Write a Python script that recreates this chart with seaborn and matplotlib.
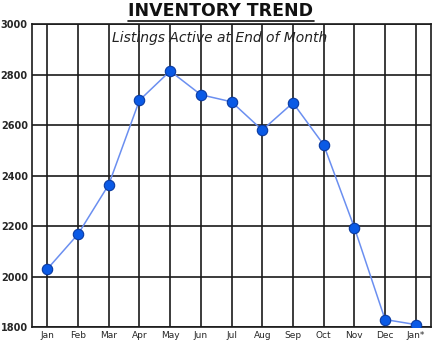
import matplotlib
matplotlib.use("Agg")
import matplotlib.pyplot as plt
import seaborn as sns
import pandas as pd

months = ["Jan", "Feb", "Mar", "Apr", "May", "Jun", "Jul", "Aug", "Sep", "Oct", "Nov", "Dec", "Jan*"]
listings = [2030, 2168, 2364, 2698, 2814, 2720, 2692, 2580, 2688, 2522, 2194, 1830, 1810]
yticks = [1800, 2000, 2200, 2400, 2600, 2800, 3000]

sns.set_theme(style="white")
plt.rcParams['font.family'] = ['DejaVu Sans']

df = pd.DataFrame({"month": months, "listings": listings, "pos": range(len(months))})

fig = plt.figure(figsize=(4.44, 3.48), dpi=100)
ax = fig.add_axes([0.072, 0.060, 0.899, 0.871])

sns.lineplot(data=df, x="pos", y="listings", ax=ax, color="#6b8ff0", linewidth=1.1,
             marker="o", markersize=7.5, markerfacecolor="#0a5ae6", markeredgecolor="#0a3aa0",
             markeredgewidth=0.8, zorder=3)

ax.set_xlim(-0.5, len(months) - 0.5)
ax.set_ylim(1800, 3000)
ax.set_xticks(range(len(months)))
ax.set_xticklabels(months, fontsize=6.5)
ax.set_yticks(yticks)
ax.set_yticklabels([str(t) for t in yticks], fontsize=7, fontweight="bold")
ax.grid(True, color="#1a1a1a", linewidth=1.2)
ax.set_axisbelow(True)
for s in ax.spines.values():
    s.set_color("#1a1a1a")
    s.set_linewidth(1.2)
ax.tick_params(axis="both", length=0, pad=3)
ax.set_xlabel("")
ax.set_ylabel("")

fig.text(0.497, 0.968, "INVENTORY TREND", ha="center", va="center", fontsize=12.5,
         fontweight="bold", color="#111111")
fig.add_artist(matplotlib.lines.Line2D([0.288, 0.708], [0.940, 0.940], color="#111111", linewidth=1.2))
fig.text(0.495, 0.890, "Listings Active at End of Month", ha="center",
         va="center", fontsize=10, style="italic", color="#222222")

fig.savefig("out.png", dpi=100)
